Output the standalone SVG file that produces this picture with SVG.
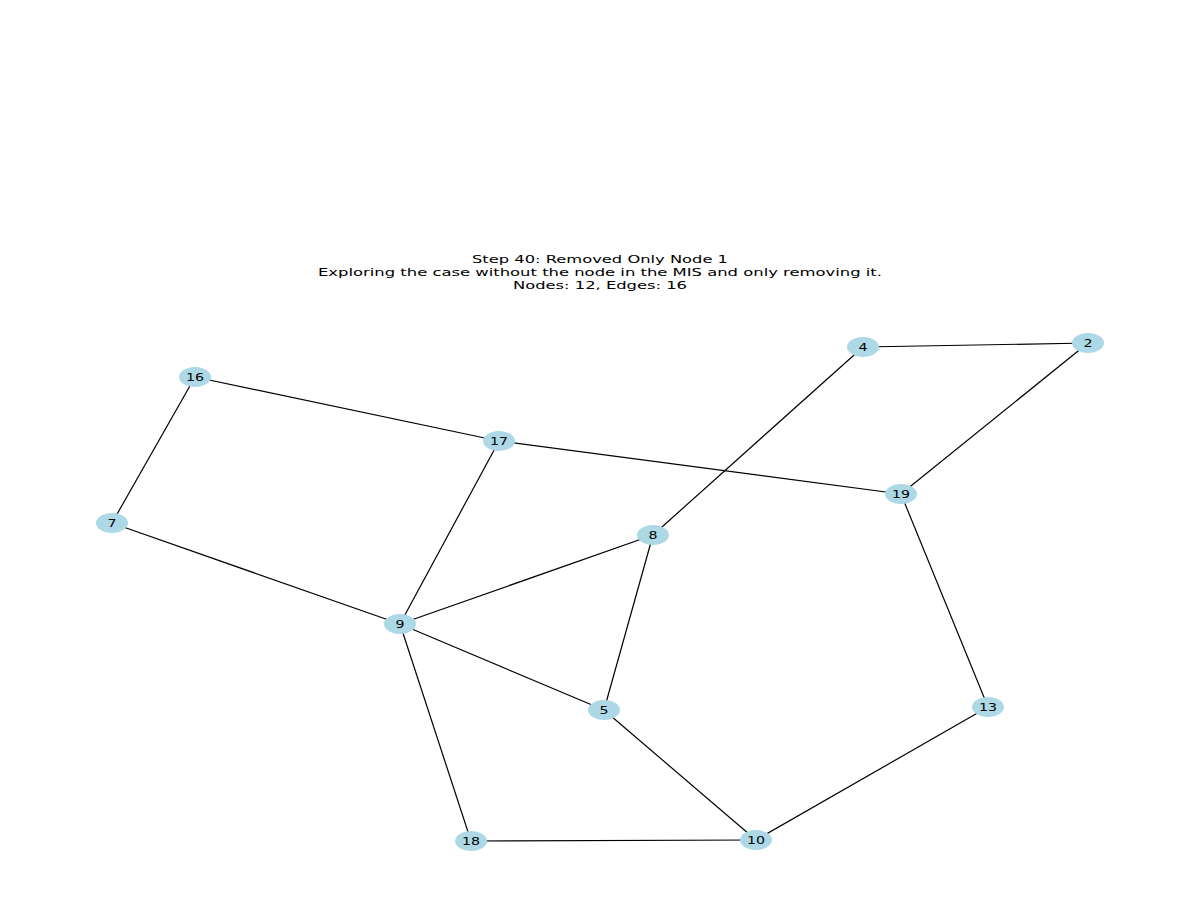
<svg xmlns="http://www.w3.org/2000/svg" width="1200" height="900" viewBox="0 0 1200 900">
<style>
.e{stroke:#000;stroke-width:1.2;fill:none}
.n ellipse{fill:#add8e6}
.n text{font-family:"DejaVu Sans",sans-serif;font-size:11px;text-anchor:middle;fill:#000}
.t{font-family:"DejaVu Sans",sans-serif;font-size:11px;text-anchor:middle;fill:#000}
</style>
<rect width="1200" height="900" fill="#fff"/>
<g id="title">
<text class="t" x="600" y="263" textLength="256" lengthAdjust="spacingAndGlyphs">Step 40: Removed Only Node 1</text>
<text class="t" x="600" y="276" textLength="564" lengthAdjust="spacingAndGlyphs">Exploring the case without the node in the MIS and only removing it.</text>
<text class="t" x="600" y="289" textLength="174" lengthAdjust="spacingAndGlyphs">Nodes: 12, Edges: 16</text>
</g>
<g id="edges">
<line class="e" x1="863" y1="347" x2="1088" y2="343"/>
<line class="e" x1="863" y1="347" x2="653" y2="535"/>
<line class="e" x1="1088" y1="343" x2="901" y2="494"/>
<line class="e" x1="195" y1="377" x2="499" y2="441"/>
<line class="e" x1="195" y1="377" x2="112" y2="523"/>
<line class="e" x1="499" y1="441" x2="901" y2="494"/>
<line class="e" x1="499" y1="441" x2="400" y2="624"/>
<line class="e" x1="112" y1="523" x2="400" y2="624"/>
<line class="e" x1="653" y1="535" x2="400" y2="624"/>
<line class="e" x1="653" y1="535" x2="604" y2="710"/>
<line class="e" x1="400" y1="624" x2="604" y2="710"/>
<line class="e" x1="400" y1="624" x2="471" y2="841"/>
<line class="e" x1="604" y1="710" x2="756" y2="840"/>
<line class="e" x1="901" y1="494" x2="988" y2="707"/>
<line class="e" x1="988" y1="707" x2="756" y2="840"/>
<line class="e" x1="471" y1="841" x2="756" y2="840"/>
</g>
<g id="node-4" class="n"><ellipse cx="863" cy="347" rx="16" ry="10"/><text x="863" y="351" textLength="9" lengthAdjust="spacingAndGlyphs">4</text></g>
<g id="node-2" class="n"><ellipse cx="1088" cy="343" rx="16" ry="10"/><text x="1088" y="347" textLength="9" lengthAdjust="spacingAndGlyphs">2</text></g>
<g id="node-16" class="n"><ellipse cx="195" cy="377" rx="16" ry="10"/><text x="195" y="381" textLength="18" lengthAdjust="spacingAndGlyphs">16</text></g>
<g id="node-17" class="n"><ellipse cx="499" cy="441" rx="16" ry="10"/><text x="499" y="445" textLength="18" lengthAdjust="spacingAndGlyphs">17</text></g>
<g id="node-19" class="n"><ellipse cx="901" cy="494" rx="16" ry="10"/><text x="901" y="498" textLength="18" lengthAdjust="spacingAndGlyphs">19</text></g>
<g id="node-7" class="n"><ellipse cx="112" cy="523" rx="16" ry="10"/><text x="112" y="527" textLength="9" lengthAdjust="spacingAndGlyphs">7</text></g>
<g id="node-8" class="n"><ellipse cx="653" cy="535" rx="16" ry="10"/><text x="653" y="539" textLength="9" lengthAdjust="spacingAndGlyphs">8</text></g>
<g id="node-9" class="n"><ellipse cx="400" cy="624" rx="16" ry="10"/><text x="400" y="628" textLength="9" lengthAdjust="spacingAndGlyphs">9</text></g>
<g id="node-5" class="n"><ellipse cx="604" cy="710" rx="16" ry="10"/><text x="604" y="714" textLength="9" lengthAdjust="spacingAndGlyphs">5</text></g>
<g id="node-13" class="n"><ellipse cx="988" cy="707" rx="16" ry="10"/><text x="988" y="711" textLength="18" lengthAdjust="spacingAndGlyphs">13</text></g>
<g id="node-18" class="n"><ellipse cx="471" cy="841" rx="16" ry="10"/><text x="471" y="845" textLength="18" lengthAdjust="spacingAndGlyphs">18</text></g>
<g id="node-10" class="n"><ellipse cx="756" cy="840" rx="16" ry="10"/><text x="756" y="844" textLength="18" lengthAdjust="spacingAndGlyphs">10</text></g>
</svg>
